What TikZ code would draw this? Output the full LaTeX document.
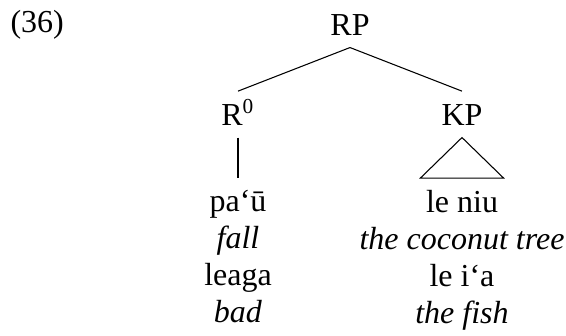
\documentclass[tikz,border=0pt]{standalone}
\usepackage{fontspec}
\setmainfont{Liberation Serif}
\usetikzlibrary{positioning}
\tikzset{
  syn/.style={every node/.style={font=\fontsize{12}{13.875}\selectfont, inner xsep=0pt, inner ysep=4.5pt, text height=8pt, text depth=0pt},
    level distance=33.75pt, edge from parent/.style={draw, -},
    edge from parent path={(\tikzparentnode.south) -- (\tikzchildnode.north)}},
  gloss/.style={align=center, anchor=north, inner ysep=4.5pt, text height=, text depth=},
  roof/.style={edge from parent path={(\tikzparentnode.south) -- ([xshift=-15.6pt]\tikzchildnode.north) -- ([xshift=15.6pt]\tikzchildnode.north) -- cycle}}
}
\begin{document}
\begin{tikzpicture}[syn, level 1/.style={sibling distance=84pt}, level 2/.style={level distance=23.9pt}]
\useasboundingbox (0,0) rectangle (212.25pt,-125.625pt);
\node[anchor=base west] (ex) at (3.75pt,-12pt) {(36)};
\node (rp) at (131.25pt,-9.125pt) {RP}
  child {node (r0) {R\textsuperscript{0}}
    child {node[gloss] (rlex) {pa‘ū\\\textit{fall}\\leaga\\\textit{bad}}}}
  child {node (kp) {KP}
    child[roof] {node[gloss] (klex) {le niu\\\textit{the coconut tree}\\le i‘a\\\textit{the fish}}}};
\end{tikzpicture}
\end{document}
